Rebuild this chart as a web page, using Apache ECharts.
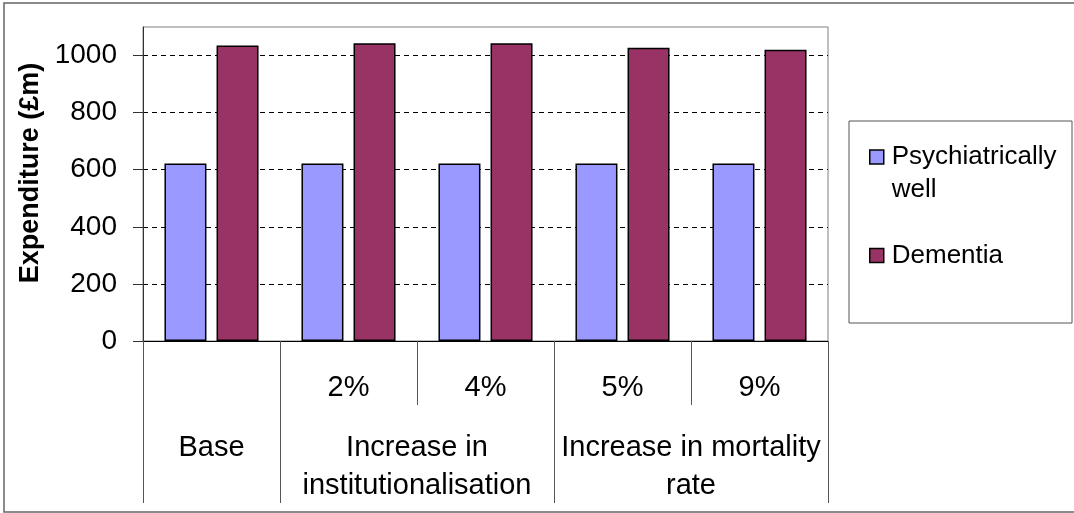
<!DOCTYPE html>
<html>
<head>
<meta charset="utf-8">
<title>Expenditure by scenario</title>
<script src="https://cdn.jsdelivr.net/npm/echarts@6/dist/echarts.min.js"></script>
<style>
  html, body { margin: 0; padding: 0; background: #fff; }
  #chart { width: 1074px; height: 513px; }
</style>
</head>
<body>
<div id="chart"></div>
<script>
// Scenario categories (inner level) and their grouping (outer level)
const categories = ['Base', 'Inst 2%', 'Inst 4%', 'Mort 5%', 'Mort 9%'];
const tickLabels = ['', '2%', '4%', '5%', '9%'];
const groupLabels = ['Base', 'Increase in\ninstitutionalisation', 'Increase in mortality\nrate'];
const groupSpans = [1, 2, 2];

// Expenditure (£m) per scenario
const seriesNames = ['Psychiatrically well', 'Dementia'];
const psychWell = [622, 622, 622, 622, 622];
const dementia = [1035, 1043, 1043, 1027, 1020];

// Value axis ticks
const yTicks = [0, 200, 400, 600, 800, 1000];
const yMax = 1100;

// Outer-level boundaries and centres, in category units
const groupBounds = [0];
const groupCentres = [];
groupSpans.forEach(function (s) {
  const start = groupBounds[groupBounds.length - 1];
  groupCentres.push(start + s / 2);
  groupBounds.push(start + s);
});

const FONT = "'Liberation Sans', Arial, sans-serif";

const chart = echarts.init(document.getElementById('chart'), null, { renderer: 'canvas' });

const legendCommon = {
  left: 869, padding: 0,
  icon: 'rect', itemWidth: 14, itemHeight: 14,
  itemStyle: { borderColor: '#000', borderWidth: 1.5 },
  textStyle: { fontFamily: FONT, fontSize: 26, lineHeight: 33, color: '#000', padding: [0, 0, 0, 3] }
};

chart.setOption({
  backgroundColor: '#ffffff',
  animation: false,
  textStyle: { fontFamily: FONT, color: '#000' },
  grid: {
    left: 143, top: 27, right: 246, bottom: 172,
    show: true, borderColor: '#808080', borderWidth: 1,
    backgroundColor: 'transparent'
  },
  graphic: [
    {
      type: 'rect', silent: true, z: -1,
      shape: { x: 4, y: 3, width: 1090, height: 509 },
      style: { fill: 'none', stroke: '#666', lineWidth: 1.5 }
    },
    {
      type: 'rect', silent: true, z: -1,
      shape: { x: 849, y: 121, width: 223, height: 202 },
      style: { fill: '#fff', stroke: '#555', lineWidth: 1 }
    }
  ],
  legend: [
    Object.assign({}, legendCommon, {
      top: 157 - 49.5,
      data: [seriesNames[0]],
      // leading blank line keeps the first text line level with the swatch
      formatter: function () { return '\nPsychiatrically\nwell'; }
    }),
    Object.assign({}, legendCommon, {
      top: 255.5 - 16.5,
      data: [seriesNames[1]]
    })
  ],
  xAxis: [
    {
      type: 'category',
      data: categories,
      position: 'bottom',
      axisLine: { show: true, lineStyle: { color: '#000', width: 1 } },
      axisTick: { show: true, interval: 0, length: 64, lineStyle: { color: '#555', width: 1 } },
      axisLabel: {
        interval: 0, margin: 31,
        fontFamily: FONT, fontSize: 29, lineHeight: 32, color: '#000',
        formatter: function (v, i) { return tickLabels[i]; }
      },
      splitLine: { show: false }
    },
    {
      type: 'value',
      min: 0, max: categories.length,
      position: 'bottom',
      offset: 64,
      axisLine: { show: false },
      axisTick: {
        show: true, length: 98, customValues: groupBounds,
        lineStyle: { color: '#555', width: 1 }
      },
      axisLabel: {
        customValues: groupCentres, margin: 24,
        fontFamily: FONT, fontSize: 29, lineHeight: 38, color: '#000',
        formatter: function (v) {
          const idx = groupCentres.indexOf(v);
          return idx >= 0 ? groupLabels[idx] : '';
        }
      },
      splitLine: { show: false }
    }
  ],
  yAxis: {
    type: 'value',
    min: 0, max: yMax, interval: 200,
    name: 'Expenditure (£m)',
    nameLocation: 'middle',
    nameRotate: 90,
    nameGap: 95,
    nameTextStyle: {
      fontFamily: FONT, fontSize: 27, fontWeight: 'bold', color: '#000',
      padding: [0, 0, 0, 22]
    },
    axisLine: { show: true, lineStyle: { color: '#333', width: 1 } },
    axisTick: {
      show: true, length: 10, customValues: yTicks,
      lineStyle: { color: '#333', width: 1 }
    },
    axisLabel: {
      customValues: yTicks, margin: 26,
      fontFamily: FONT, fontSize: 28, color: '#000',
      formatter: function (v) { return String(v); }
    },
    splitLine: {
      show: true,
      lineStyle: { color: '#000', width: 1, type: [5, 4] }
    }
  },
  series: [
    {
      name: seriesNames[0],
      type: 'bar',
      xAxisIndex: 0,
      data: psychWell,
      barWidth: 42,
      barGap: '24%',
      itemStyle: { color: '#9999FF', borderColor: '#000', borderWidth: 1.5 }
    },
    {
      name: seriesNames[1],
      type: 'bar',
      xAxisIndex: 0,
      data: dementia,
      barWidth: 42,
      barGap: '24%',
      itemStyle: { color: '#993366', borderColor: '#000', borderWidth: 1.5 }
    }
  ]
});
</script>
</body>
</html>
